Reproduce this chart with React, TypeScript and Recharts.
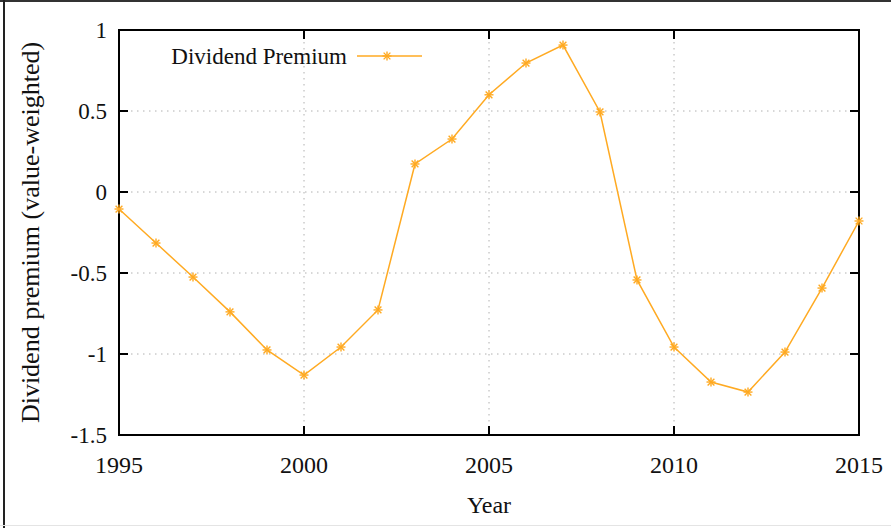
import React from "react";
import { LineChart, Line, XAxis, YAxis, CartesianGrid, ReferenceArea } from "recharts";

const years = [1995, 1996, 1997, 1998, 1999, 2000, 2001, 2002, 2003, 2004, 2005, 2006, 2007, 2008, 2009, 2010, 2011, 2012, 2013, 2014, 2015];
const premium = [-0.105, -0.315, -0.525, -0.74, -0.975, -1.13, -0.957, -0.728, 0.173, 0.327, 0.6, 0.796, 0.907, 0.494, -0.543, -0.957, -1.173, -1.235, -0.988, -0.593, -0.179];
const xTicks = [1995, 2000, 2005, 2010, 2015];
const yTicks = [-1.5, -1, -0.5, 0, 0.5, 1];
const gridX = [2000, 2005, 2010];
const gridY = [-1, -0.5, 0, 0.5];
const seriesName = "Dividend Premium";

const data = years.map((y, i) => ({ year: y, value: premium[i] }));

const COLOR = "#FFAA22";
const INK = "#000000";
const FONT = "Liberation Serif, serif";
const TICK = 9;
const CHART_W = 891;
const CHART_H = 528;
const MARGIN = { top: 30, right: 32, bottom: 0, left: 0 };
const Y_AXIS_W = 119;
const X_AXIS_H = 93;
const PLOT_W = CHART_W - MARGIN.left - MARGIN.right - Y_AXIS_W;
const PLOT_H = CHART_H - MARGIN.top - MARGIN.bottom - X_AXIS_H;
const MARGIN_TICK = 12;

const Star = (props: any) => {
  const { cx, cy } = props;
  if (cx == null || cy == null) return null;
  const r = 4.5;
  const d = r * 0.75;
  return (
    <g stroke={COLOR} strokeWidth={1.4}>
      <line x1={cx - r} y1={cy} x2={cx + r} y2={cy} />
      <line x1={cx} y1={cy - r} x2={cx} y2={cy + r} />
      <line x1={cx - d} y1={cy - d} x2={cx + d} y2={cy + d} />
      <line x1={cx - d} y1={cy + d} x2={cx + d} y2={cy - d} />
    </g>
  );
};

const LeftTick = (props: any) => {
  const { x, y, payload } = props;
  const ax = x + MARGIN_TICK;
  return (
    <g>
      <g stroke={INK} strokeWidth={2}>
        <line x1={ax} y1={y} x2={ax + TICK} y2={y} />
        <line x1={ax + PLOT_W - TICK} y1={y} x2={ax + PLOT_W} y2={y} />
      </g>
      <text x={x} y={y} dy={8} textAnchor="end" fontFamily={FONT} fontSize={23} fill="#111">
        {payload.value}
      </text>
    </g>
  );
};

const BottomTick = (props: any) => {
  const { x, y, payload } = props;
  const ay = y - MARGIN_TICK;
  return (
    <g>
      <g stroke={INK} strokeWidth={2}>
        <line x1={x} y1={ay} x2={x} y2={ay - TICK} />
        <line x1={x} y1={ay - PLOT_H} x2={x} y2={ay - PLOT_H + TICK} />
      </g>
      <text x={x} y={y} dy={26} textAnchor="middle" fontFamily={FONT} fontSize={24} fill="#111">
        {payload.value}
      </text>
    </g>
  );
};

export default function App() {
  return (
    <div style={{ position: "absolute", left: 0, top: 0, width: CHART_W, height: CHART_H, background: "#fff" }}>
      <div style={{ position: "absolute", left: 0, top: 0, width: CHART_W, height: 2, background: "#333" }} />
      <div style={{ position: "absolute", left: 3, top: 0, width: 2, height: CHART_H, background: "#222" }} />
      <div style={{ position: "absolute", left: 0, top: 525, width: CHART_W, height: 1, background: "#e4e4e4" }} />
      <div style={{ position: "absolute", left: 0, top: 0 }}>
        <LineChart width={CHART_W} height={CHART_H} data={data} margin={MARGIN}>
          <CartesianGrid
            xAxisId="b"
            yAxisId="l"
            stroke="#b0b0b0"
            strokeDasharray="1.5 4.5"
            horizontalValues={gridY}
            verticalValues={gridX}
          />
          <XAxis
            xAxisId="b"
            dataKey="year"
            type="number"
            domain={[1995, 2015]}
            ticks={xTicks}
            tickSize={0}
            tickMargin={MARGIN_TICK}
            tick={<BottomTick />}
            axisLine={{ stroke: INK, strokeWidth: 2 }}
            height={X_AXIS_H}
            interval={0}
            label={{ value: "Year", position: "insideBottom", offset: 15, fontFamily: FONT, fontSize: 24, fill: "#111" }}
          />
          <YAxis
            yAxisId="l"
            type="number"
            domain={[-1.5, 1]}
            ticks={yTicks}
            tickSize={0}
            tickMargin={MARGIN_TICK}
            tick={<LeftTick />}
            axisLine={{ stroke: INK, strokeWidth: 2 }}
            width={Y_AXIS_W}
            interval={0}
            label={{ value: "Dividend premium (value-weighted)", angle: -90, position: "insideLeft", offset: 30, fontFamily: FONT, fontSize: 26, fill: "#111", style: { textAnchor: "middle" } }}
          />
          <ReferenceArea
            xAxisId="b"
            yAxisId="l"
            x1={1995}
            x2={2015}
            y1={-1.5}
            y2={1}
            fill="none"
            stroke={INK}
            strokeWidth={2}
            ifOverflow="visible"
          />
          <Line
            xAxisId="b"
            yAxisId="l"
            dataKey="value"
            name={seriesName}
            type="linear"
            stroke={COLOR}
            strokeWidth={1.5}
            dot={<Star />}
            activeDot={false}
            isAnimationActive={false}
          />
        </LineChart>
      </div>
      <div style={{ position: "absolute", left: 118, top: 36, width: 310, height: 40 }}>
        <svg width={310} height={40} style={{ overflow: "visible" }}>
          <text x={229} y={28} textAnchor="end" fontFamily={FONT} fontSize={23} fill="#111">
            {seriesName}
          </text>
          <line x1={239} y1={20} x2={304} y2={20} stroke={COLOR} strokeWidth={1.5} />
          <Star cx={269} cy={20} />
        </svg>
      </div>
    </div>
  );
}
